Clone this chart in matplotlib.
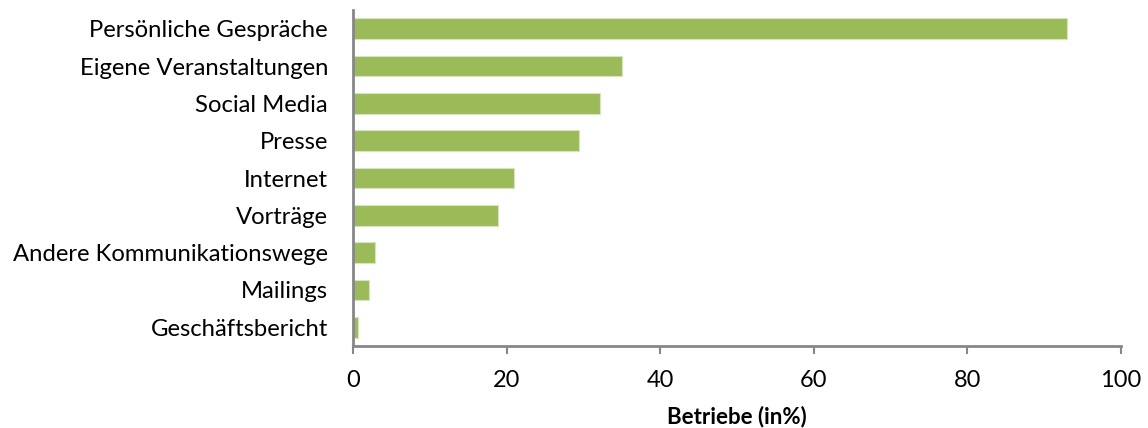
import matplotlib
matplotlib.use("Agg")
import matplotlib.pyplot as plt

categories = ["Persönliche Gespräche", "Eigene Veranstaltungen", "Social Media", "Presse",
              "Internet", "Vorträge", "Andere Kommunikationswege", "Mailings", "Geschäftsbericht"]
values = [93.0, 35.0, 32.2, 29.4, 21.0, 18.9, 2.8, 2.1, 0.7]
xticks = [0, 20, 40, 60, 80, 100]
xlabel = "Betriebe (in%)"

plt.rcParams['font.family'] = ['Lato', 'DejaVu Sans']

fig = plt.figure(figsize=(11.48, 4.28), dpi=100)
ax = fig.add_axes([0.3075, 0.1916, 0.669, 0.785])

ypos = list(range(len(categories)))[::-1]
ax.barh(ypos, values, height=0.56, color="#9BBB59", edgecolor="#D7E4BD", linewidth=0.8)

ax.set_xlim(0, 100)
ax.set_ylim(-0.5, len(categories) - 0.5)
ax.set_yticks(ypos)
ax.set_yticklabels(categories, fontsize=17.2)
ax.set_xticks(xticks)
ax.set_xticklabels([str(t) for t in xticks], fontsize=17)
ax.set_xlabel(xlabel, fontsize=16, fontweight="bold", labelpad=11)

for s in ["top", "right"]:
    ax.spines[s].set_visible(False)
for s in ["left", "bottom"]:
    ax.spines[s].set_color("#878787")
    ax.spines[s].set_linewidth(2)

ax.tick_params(axis="y", length=0, pad=18)
ax.tick_params(axis="x", length=6, width=1.5, color="#878787", pad=11)

fig.savefig("out.png", dpi=100)
